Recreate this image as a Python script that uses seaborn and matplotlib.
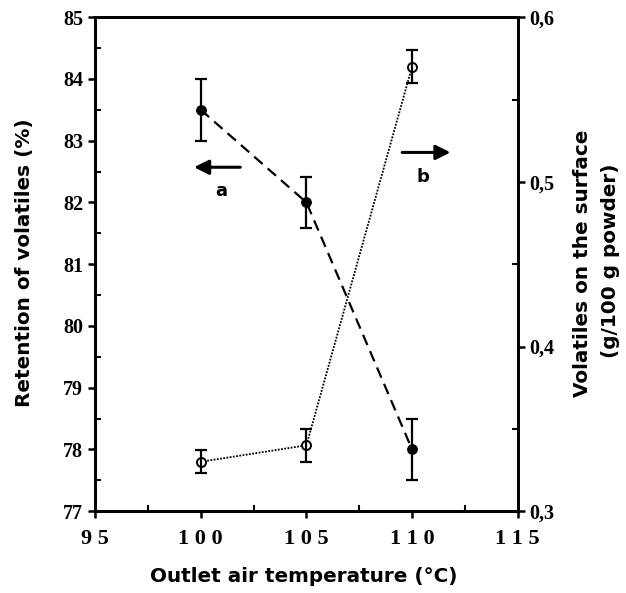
import matplotlib
matplotlib.use("Agg")
import matplotlib.pyplot as plt
import seaborn as sns
import pandas as pd
from matplotlib.ticker import MultipleLocator, FixedLocator, FixedFormatter

# Outlet air temperature (°C)
temperature = [100, 105, 110]

# (a) Retention of volatiles (%) with error half-widths
retention = [83.5, 82.0, 78.0]
retention_err = [0.5, 0.42, 0.5]

# (b) Volatiles on the surface (g/100 g powder) with error half-widths
surface = [0.330, 0.340, 0.570]
surface_err = [0.007, 0.010, 0.010]

x_ticks = [95, 100, 105, 110, 115]
x_tick_labels = ["9 5", "1 0 0", "1 0 5", "1 1 0", "1 1 5"]
left_ticks = [77, 78, 79, 80, 81, 82, 83, 84, 85]
right_ticks = [0.3, 0.4, 0.5, 0.6]
right_tick_labels = ["0,3", "0,4", "0,5", "0,6"]

sns.set_style("ticks")
plt.rcParams["font.family"] = ["DejaVu Sans"]
plt.rcParams["text.color"] = "black"
plt.rcParams["axes.labelcolor"] = "black"

fig = plt.figure(figsize=(6.26, 5.93), dpi=100)
ax = fig.add_axes([0.152, 0.138, 0.675, 0.833])
ax2 = ax.twinx()

df_a = pd.DataFrame({"T": temperature, "R": retention})
df_b = pd.DataFrame({"T": temperature, "S": surface})

# series a: filled circles, dashed line
sns.lineplot(data=df_a, x="T", y="R", ax=ax, color="black", lw=1.6,
             linestyle=(0, (5, 3)), marker="o", markersize=7,
             markerfacecolor="black", markeredgecolor="black")
ax.errorbar(temperature, retention, yerr=retention_err, fmt="none",
            ecolor="black", elinewidth=1.6, capsize=4.5, capthick=1.6)

# series b: open circles, dotted line
sns.lineplot(data=df_b, x="T", y="S", ax=ax2, color="black", lw=1.3,
             linestyle=(0, (1, 0.8)), marker="o", markersize=6.5,
             markerfacecolor="white", markeredgecolor="black",
             markeredgewidth=1.4)
ax2.errorbar(temperature, surface, yerr=surface_err, fmt="none",
             ecolor="black", elinewidth=1.6, capsize=4.5, capthick=1.6)

ax.set_xlim(95, 115)
ax.set_ylim(77, 85)
ax2.set_ylim(0.3, 0.6)

ax.xaxis.set_major_locator(FixedLocator(x_ticks))
ax.xaxis.set_major_formatter(FixedFormatter(x_tick_labels))
ax.xaxis.set_minor_locator(MultipleLocator(2.5))
ax.yaxis.set_major_locator(FixedLocator(left_ticks))
ax.yaxis.set_minor_locator(MultipleLocator(0.5))
ax2.yaxis.set_major_locator(FixedLocator(right_ticks))
ax2.yaxis.set_major_formatter(FixedFormatter(right_tick_labels))
ax2.yaxis.set_minor_locator(MultipleLocator(0.05))

for a in (ax, ax2):
    for s in a.spines.values():
        s.set_linewidth(2.0)
        s.set_color("black")
    a.tick_params(which="major", direction="out", length=5, width=1.8,
                  colors="black")
    a.tick_params(which="minor", direction="in", length=4, width=1.5,
                  colors="black")

ax.tick_params(axis="x", pad=8)
for lab in ax.get_xticklabels():
    lab.set_fontfamily("Liberation Serif")
    lab.set_fontweight("bold")
    lab.set_fontsize(16)
for lab in ax.get_yticklabels() + ax2.get_yticklabels():
    lab.set_fontfamily("Liberation Serif")
    lab.set_fontweight("bold")
    lab.set_fontsize(14.5)

ax.set_xlabel("")
ax.set_ylabel("")
ax2.set_ylabel("")

label_kw = dict(ha="center", va="center", fontsize=14.4, fontweight="bold",
                family="DejaVu Sans", color="black")
fig.text(304 / 626, 1 - 577 / 593, "Outlet air temperature (°C)", **label_kw)
fig.text(25 / 626, 1 - 263 / 593, "Retention of volatiles (%)",
         rotation=90, **label_kw)
fig.text(583 / 626, 1 - 263 / 593, "Volatiles on the surface",
         rotation=90, **label_kw)
fig.text(610 / 626, 1 - 261 / 593, "(g/100 g powder)",
         rotation=90, **label_kw)

# direction arrows pointing to each series' axis
arrow_kw = dict(arrowstyle="-|>", color="black", lw=2.2, mutation_scale=22)
ax.annotate("", xy=(99.55, 82.57), xytext=(102.0, 82.57), arrowprops=arrow_kw)
ax.text(100.96, 82.18, "a", ha="center", va="center", fontsize=13,
        fontweight="bold", color="black")
ax.annotate("", xy=(111.95, 82.81), xytext=(109.4, 82.81), arrowprops=arrow_kw)
ax.text(110.5, 82.41, "b", ha="center", va="center", fontsize=13,
        fontweight="bold", color="black")

fig.savefig("out.png", dpi=100)
